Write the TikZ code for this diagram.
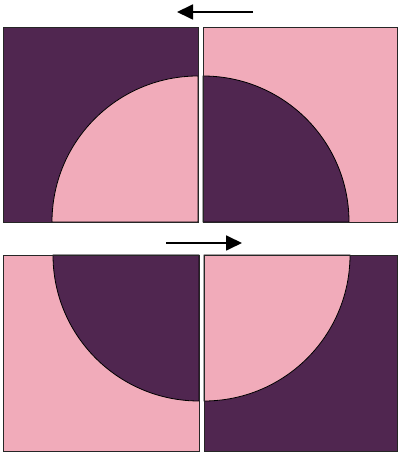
\documentclass[tikz,border=0pt]{standalone}
\usetikzlibrary{arrows.meta}
\definecolor{plum}{RGB}{80,38,80}
\definecolor{rose}{RGB}{241,171,186}
\begin{document}
\begin{tikzpicture}[x=1pt,y=1pt,
  tile/.style={draw=black!85,line width=0.8pt},
  curve/.style={draw=black,line width=0.8pt},
  motion/.style={line width=1.8pt,-{Triangle[length=16pt,width=15pt]}}]
\useasboundingbox (0,0) rectangle (398,452);
% top-left
\fill[plum] (3,230) rectangle (198,425);
\filldraw[fill=rose,curve] (198,230) -- (52,230) arc[start angle=180,end angle=90,radius=146] -- cycle;
\draw[tile] (3,230) rectangle (198,425);
% top-right
\fill[rose] (203,230) rectangle (397.5,425);
\filldraw[fill=plum,curve] (203,230) -- (349,230) arc[start angle=0,end angle=90,radius=146] -- cycle;
\draw[tile] (203,230) rectangle (397.5,425);
% bottom-left
\fill[rose] (3,1) rectangle (199,197);
\filldraw[fill=plum,curve] (199,197) -- (53,197) arc[start angle=180,end angle=270,radius=146] -- cycle;
\draw[tile] (3,1) rectangle (199,197);
% bottom-right
\fill[plum] (204,1) rectangle (397.5,197);
\filldraw[fill=rose,curve] (204,197) -- (350,197) arc[start angle=0,end angle=-90,radius=146] -- cycle;
\draw[tile] (204,1) rectangle (397.5,197);
% arrows
\coordinate (a1) at (253,440);
\coordinate (b1) at (177,440);
\coordinate (a2) at (166,209);
\coordinate (b2) at (242,209);
\draw[motion] (a1) -- (b1);
\draw[motion] (a2) -- (b2);
\end{tikzpicture}
\end{document}
